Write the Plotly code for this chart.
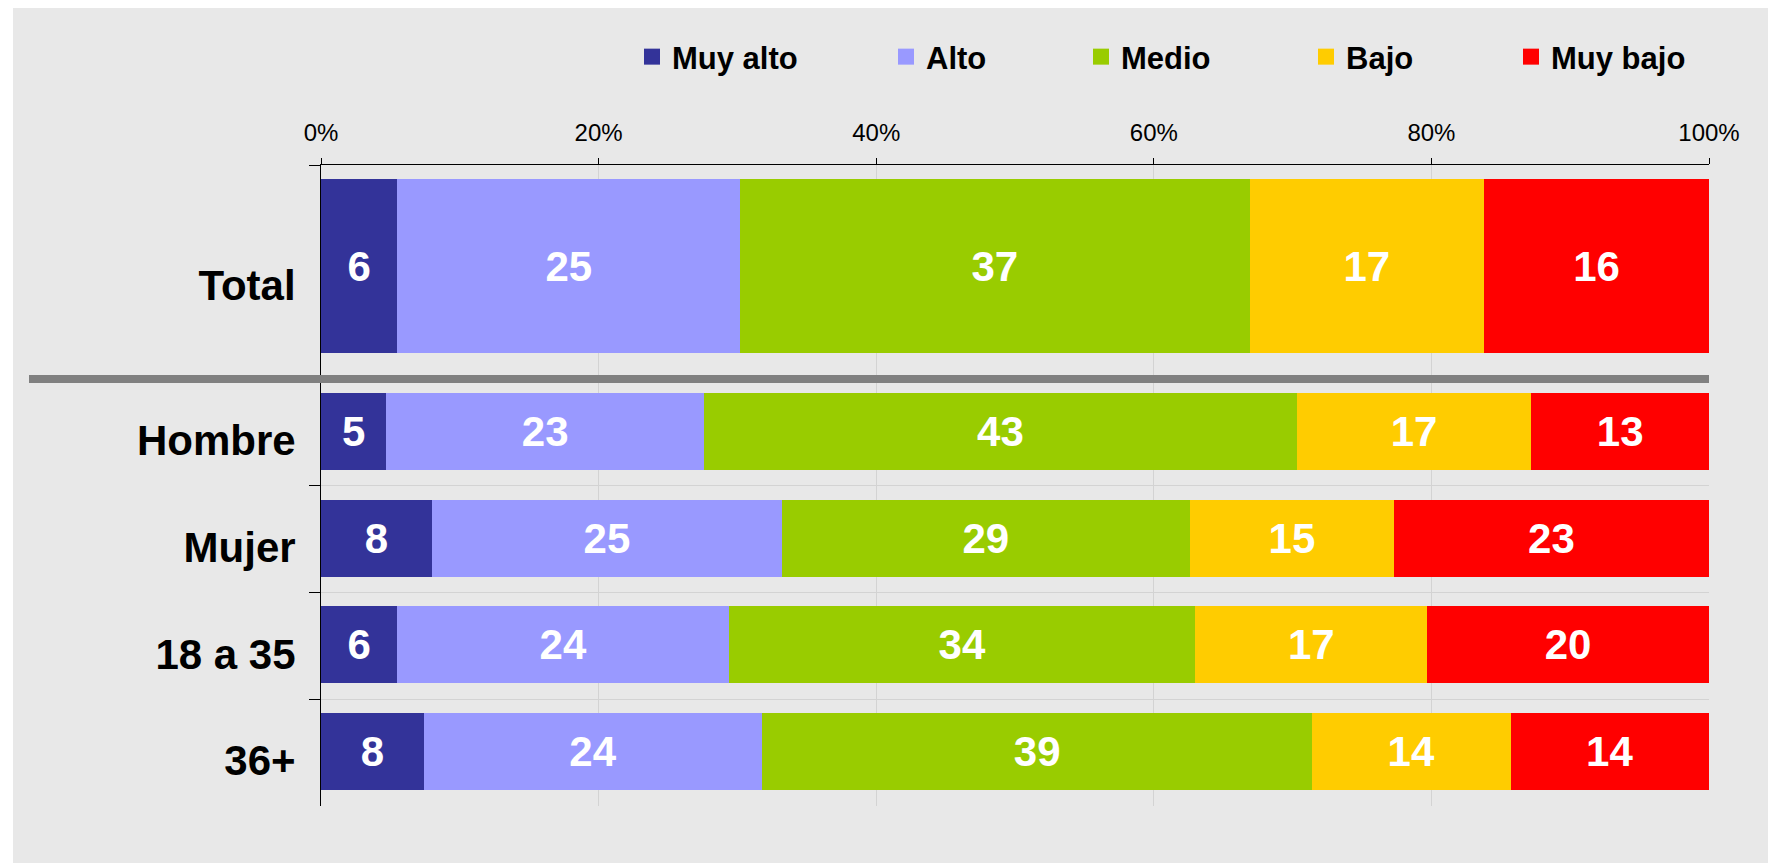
import plotly.graph_objects as go
from plotly.subplots import make_subplots

# ---------------- data ----------------
levels = ["Muy alto", "Alto", "Medio", "Bajo", "Muy bajo"]
colors = ["#333399", "#9999FF", "#99CC00", "#FFCC00", "#FF0000"]

top_group = ["Total"]
sub_groups = ["Hombre", "Mujer", "18 a 35", "36+"]

# bar shares (% of each row), ordered as `levels`
total_shares = [5.5, 24.7, 36.7, 16.9, 16.2]
hombre_shares = [4.7, 22.9, 42.7, 16.9, 12.8]
mujer_shares = [8.0, 25.2, 29.4, 14.7, 22.7]
joven_shares = [5.5, 23.9, 33.6, 16.7, 20.3]
mayor_shares = [7.4, 24.4, 39.6, 14.3, 14.3]

# numbers printed in the segments
total_labels = [6, 25, 37, 17, 16]
hombre_labels = [5, 23, 43, 17, 13]
mujer_labels = [8, 25, 29, 15, 23]
joven_labels = [6, 24, 34, 17, 20]
mayor_labels = [8, 24, 39, 14, 14]

x_ticks = [0, 20, 40, 60, 80, 100]
x_ticktext = ["0%", "20%", "40%", "60%", "80%", "100%"]

# ---------------- layout geometry ----------------
OFF = 8  # page body margin of the html page
W, H = 1776, 863
# targets in page pixels
PL, PR, PT, PB = 321, 1709, 165, 806
ML, MT = PL - OFF, PT - OFF
MR, MB = W - (PR - OFF), H - (PB - OFF)
PW = PR - PL
PH = PB - PT


def px_x(px):
    return (px - PL) / PW


def px_y(py):
    return (PB - py) / PH


FONT = "Liberation Sans, Arial, sans-serif"
BG = "#e8e8e8"
GRID = "#d3d3d3"

fig = make_subplots(rows=2, cols=1, shared_xaxes=True, vertical_spacing=0,
                    row_heights=[214, 427])

sub_shares = [hombre_shares, mujer_shares, joven_shares, mayor_shares]
sub_labels = [hombre_labels, mujer_labels, joven_labels, mayor_labels]

for i, lev in enumerate(levels):
    fig.add_trace(go.Bar(
        y=top_group, x=[total_shares[i]], orientation="h",
        text=[str(total_labels[i])], name=lev,
        marker=dict(color=colors[i], line=dict(width=0)),
        width=0.814, offset=-0.379,
        textposition="inside", insidetextanchor="middle", textangle=0,
        constraintext="none",
        textfont=dict(family=FONT, size=42, color="white", weight="bold"),
        showlegend=False, hoverinfo="skip"), row=1, col=1)
    fig.add_trace(go.Bar(
        y=sub_groups, x=[s[i] for s in sub_shares], orientation="h",
        text=[str(l[i]) for l in sub_labels], name=lev,
        marker=dict(color=colors[i], line=dict(width=0)),
        width=0.721, offset=-0.369,
        textposition="inside", insidetextanchor="middle", textangle=0,
        constraintext="none",
        textfont=dict(family=FONT, size=42, color="white", weight="bold"),
        showlegend=False, hoverinfo="skip"), row=2, col=1)

# legend entries (one legend per item, placed like the original)
legend_centers = [652, 906, 1101, 1326, 1531]
legend_names = ["legend", "legend2", "legend3", "legend4", "legend5"]
for i, lev in enumerate(levels):
    fig.add_trace(go.Scatter(
        x=[None], y=[None], mode="markers", name=lev,
        marker=dict(symbol="square", size=20, color=colors[i]),
        legend=legend_names[i], showlegend=True, hoverinfo="skip"),
        row=1, col=1)

legend_layout = {}
for i, ln in enumerate(legend_names):
    legend_layout[ln] = dict(
        x=px_x(legend_centers[i] - 20), xanchor="left",
        y=px_y(57), yanchor="middle",
        orientation="h", bgcolor="rgba(0,0,0,0)", borderwidth=0,
        font=dict(family=FONT, size=31, color="black", weight="bold"),
        itemclick=False, itemdoubleclick=False, itemsizing="trace")

fig.update_layout(
    width=W, height=H, autosize=False,
    margin=dict(l=ML, r=MR, t=MT, b=MB, pad=0),
    paper_bgcolor="white", plot_bgcolor=BG,
    barmode="stack", barnorm="percent",
    font=dict(family=FONT, color="black"),
    **legend_layout,
    shapes=[
        dict(type="rect", xref="paper", yref="paper",
             x0=px_x(13), x1=px_x(1800), y0=px_y(900), y1=px_y(7),
             fillcolor=BG, line=dict(width=0), layer="below"),
        dict(type="line", xref="paper", yref="y2 domain",
             x0=px_x(29), x1=1, y0=1, y1=1,
             line=dict(color="#808080", width=8), layer="above"),
    ],
)

fig.update_xaxes(range=[0, 100], tickvals=x_ticks, ticktext=x_ticktext,
                 showgrid=True, gridcolor=GRID, gridwidth=1, zeroline=False)
fig.update_xaxes(row=1, col=1, side="top", showticklabels=True,
                 ticks="outside", ticklen=6, tickcolor="black",
                 showline=True, linecolor="black", linewidth=1,
                 tickfont=dict(family=FONT, size=24, color="black"),
                 ticklabelstandoff=7)
fig.update_xaxes(row=2, col=1, showticklabels=False, ticks="", showline=False)

fig.update_yaxes(showgrid=True, gridcolor=GRID, gridwidth=1,
                 showline=True, linecolor="black", linewidth=1,
                 ticks="outside", ticklen=11, tickcolor="black",
                 tickson="boundaries", zeroline=False,
                 tickfont=dict(family=FONT, size=42, color="black",
                               weight="bold"),
                 ticklabelstandoff=16)
fig.update_yaxes(row=1, col=1, categoryorder="array",
                 categoryarray=top_group, ticklabelshift=13)
fig.update_yaxes(row=2, col=1, categoryorder="array",
                 categoryarray=sub_groups, autorange="reversed",
                 ticklabelshift=-8)

fig.write_html("out.html")
